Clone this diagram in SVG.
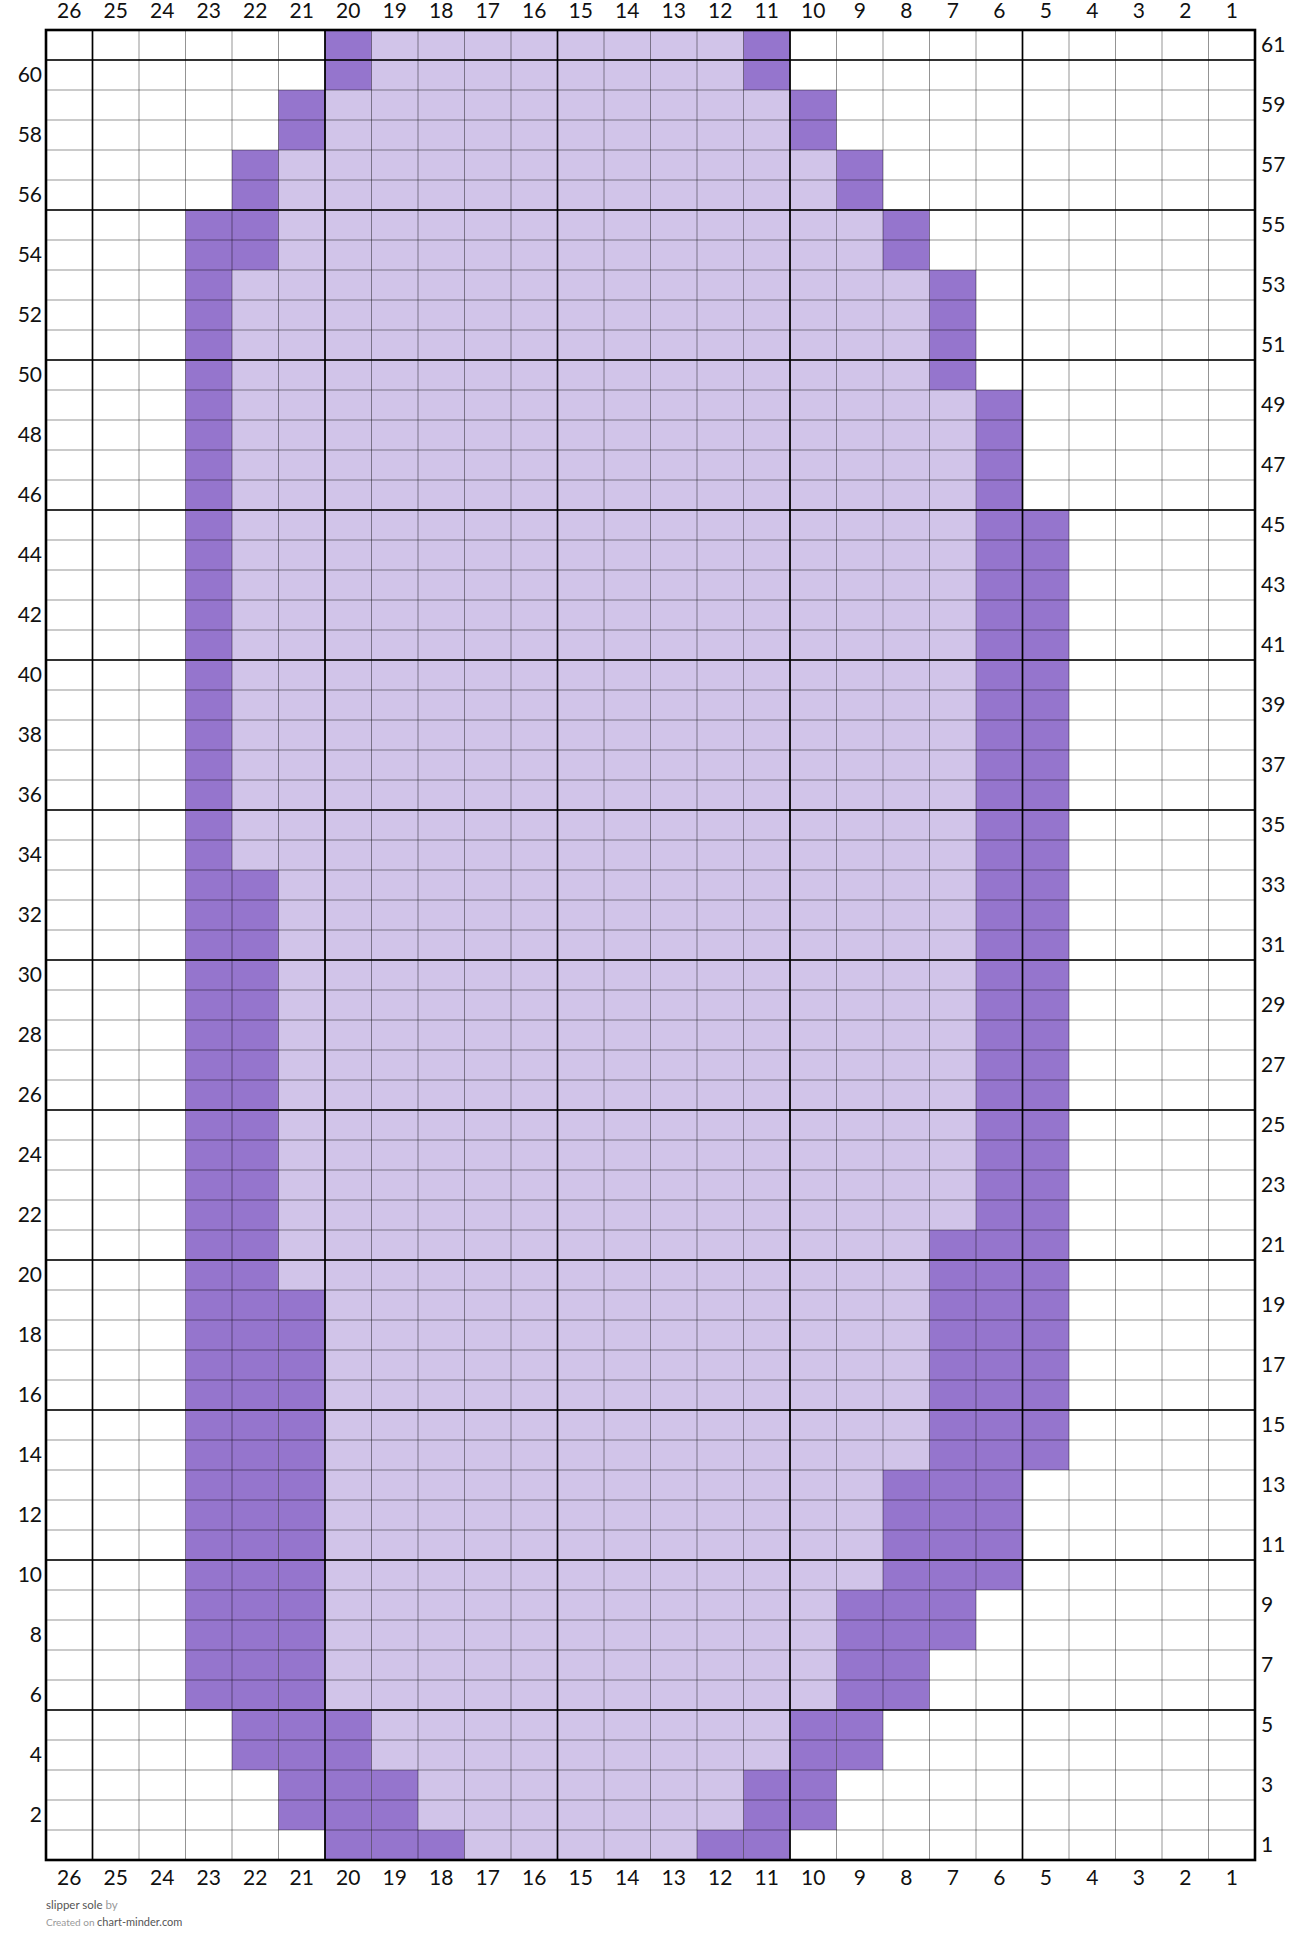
<svg xmlns="http://www.w3.org/2000/svg" width="1302" height="1953" viewBox="0 0 1302 1953">
<style>
.lt{fill:#D1C4E9}
.dk{fill:#9575CD}
.thin{fill:none;stroke:#000;stroke-opacity:0.42;stroke-width:1}
.thick{fill:none;stroke:#000;stroke-width:1.7}
.border{fill:none;stroke:#000;stroke-width:2.6}
.lab{font-family:Lato,"Liberation Sans",sans-serif;font-size:21px;fill:#111}
.c{text-anchor:middle}
.l{text-anchor:end}
.r{text-anchor:start}
.ft{font-family:Lato,"Liberation Sans",sans-serif}
</style>
<rect x="0" y="0" width="1302" height="1953" fill="#fff"/>
<g id="light-cells">
<rect class="lt" x="371.5" y="30" width="372" height="60"/>
<rect class="lt" x="325" y="90" width="465" height="60"/>
<rect class="lt" x="278.5" y="150" width="558" height="60"/>
<rect class="lt" x="278.5" y="210" width="604.5" height="60"/>
<rect class="lt" x="232" y="270" width="697.5" height="120"/>
<rect class="lt" x="232" y="390" width="744" height="480"/>
<rect class="lt" x="278.5" y="870" width="697.5" height="360"/>
<rect class="lt" x="278.5" y="1230" width="651" height="60"/>
<rect class="lt" x="325" y="1290" width="604.5" height="180"/>
<rect class="lt" x="325" y="1470" width="558" height="120"/>
<rect class="lt" x="325" y="1590" width="511.5" height="120"/>
<rect class="lt" x="371.5" y="1710" width="418.5" height="60"/>
<rect class="lt" x="418" y="1770" width="325.5" height="60"/>
<rect class="lt" x="464.5" y="1830" width="232.5" height="30"/>
</g>
<g id="dark-cells">
<rect class="dk" x="185.5" y="210" width="46.5" height="1500"/>
<rect class="dk" x="232" y="150" width="46.5" height="120"/>
<rect class="dk" x="232" y="870" width="46.5" height="900"/>
<rect class="dk" x="278.5" y="90" width="46.5" height="60"/>
<rect class="dk" x="278.5" y="1290" width="46.5" height="540"/>
<rect class="dk" x="325" y="30" width="46.5" height="60"/>
<rect class="dk" x="325" y="1710" width="46.5" height="150"/>
<rect class="dk" x="371.5" y="1770" width="46.5" height="90"/>
<rect class="dk" x="418" y="1830" width="46.5" height="30"/>
<rect class="dk" x="697" y="1830" width="46.5" height="30"/>
<rect class="dk" x="743.5" y="30" width="46.5" height="60"/>
<rect class="dk" x="743.5" y="1770" width="46.5" height="90"/>
<rect class="dk" x="790" y="90" width="46.5" height="60"/>
<rect class="dk" x="790" y="1710" width="46.5" height="120"/>
<rect class="dk" x="836.5" y="150" width="46.5" height="60"/>
<rect class="dk" x="836.5" y="1590" width="46.5" height="180"/>
<rect class="dk" x="883" y="210" width="46.5" height="60"/>
<rect class="dk" x="883" y="1470" width="46.5" height="240"/>
<rect class="dk" x="929.5" y="270" width="46.5" height="120"/>
<rect class="dk" x="929.5" y="1230" width="46.5" height="420"/>
<rect class="dk" x="976" y="390" width="46.5" height="1200"/>
<rect class="dk" x="1022.5" y="510" width="46.5" height="960"/>
</g>
<g id="grid">
<path class="thin" d="M92.5 30V1860M139 30V1860M185.5 30V1860M232 30V1860M278.5 30V1860M325 30V1860M371.5 30V1860M418 30V1860M464.5 30V1860M511 30V1860M557.5 30V1860M604 30V1860M650.5 30V1860M697 30V1860M743.5 30V1860M790 30V1860M836.5 30V1860M883 30V1860M929.5 30V1860M976 30V1860M1022.5 30V1860M1069 30V1860M1115.5 30V1860M1162 30V1860M1208.5 30V1860"/>
<path class="thin" d="M46 60H1255M46 90H1255M46 120H1255M46 150H1255M46 180H1255M46 210H1255M46 240H1255M46 270H1255M46 300H1255M46 330H1255M46 360H1255M46 390H1255M46 420H1255M46 450H1255M46 480H1255M46 510H1255M46 540H1255M46 570H1255M46 600H1255M46 630H1255M46 660H1255M46 690H1255M46 720H1255M46 750H1255M46 780H1255M46 810H1255M46 840H1255M46 870H1255M46 900H1255M46 930H1255M46 960H1255M46 990H1255M46 1020H1255M46 1050H1255M46 1080H1255M46 1110H1255M46 1140H1255M46 1170H1255M46 1200H1255M46 1230H1255M46 1260H1255M46 1290H1255M46 1320H1255M46 1350H1255M46 1380H1255M46 1410H1255M46 1440H1255M46 1470H1255M46 1500H1255M46 1530H1255M46 1560H1255M46 1590H1255M46 1620H1255M46 1650H1255M46 1680H1255M46 1710H1255M46 1740H1255M46 1770H1255M46 1800H1255M46 1830H1255"/>
<path class="thick" d="M92.5 30V1860M325 30V1860M557.5 30V1860M790 30V1860M1022.5 30V1860M46 60H1255M46 210H1255M46 360H1255M46 510H1255M46 660H1255M46 810H1255M46 960H1255M46 1110H1255M46 1260H1255M46 1410H1255M46 1560H1255M46 1710H1255"/>
<rect class="border" x="46" y="30" width="1209" height="1830"/>
</g>
<g id="col-labels-top" class="lab c">
<text x="69.25" y="18">26</text><text x="115.75" y="18">25</text><text x="162.25" y="18">24</text><text x="208.75" y="18">23</text><text x="255.25" y="18">22</text><text x="301.75" y="18">21</text><text x="348.25" y="18">20</text><text x="394.75" y="18">19</text><text x="441.25" y="18">18</text><text x="487.75" y="18">17</text><text x="534.25" y="18">16</text><text x="580.75" y="18">15</text><text x="627.25" y="18">14</text><text x="673.75" y="18">13</text><text x="720.25" y="18">12</text><text x="766.75" y="18">11</text><text x="813.25" y="18">10</text><text x="859.75" y="18">9</text><text x="906.25" y="18">8</text><text x="952.75" y="18">7</text><text x="999.25" y="18">6</text><text x="1045.75" y="18">5</text><text x="1092.25" y="18">4</text><text x="1138.75" y="18">3</text><text x="1185.25" y="18">2</text><text x="1231.75" y="18">1</text>
</g>
<g id="col-labels-bottom" class="lab c">
<text x="69.25" y="1885">26</text><text x="115.75" y="1885">25</text><text x="162.25" y="1885">24</text><text x="208.75" y="1885">23</text><text x="255.25" y="1885">22</text><text x="301.75" y="1885">21</text><text x="348.25" y="1885">20</text><text x="394.75" y="1885">19</text><text x="441.25" y="1885">18</text><text x="487.75" y="1885">17</text><text x="534.25" y="1885">16</text><text x="580.75" y="1885">15</text><text x="627.25" y="1885">14</text><text x="673.75" y="1885">13</text><text x="720.25" y="1885">12</text><text x="766.75" y="1885">11</text><text x="813.25" y="1885">10</text><text x="859.75" y="1885">9</text><text x="906.25" y="1885">8</text><text x="952.75" y="1885">7</text><text x="999.25" y="1885">6</text><text x="1045.75" y="1885">5</text><text x="1092.25" y="1885">4</text><text x="1138.75" y="1885">3</text><text x="1185.25" y="1885">2</text><text x="1231.75" y="1885">1</text>
</g>
<g id="row-labels-left" class="lab l">
<text x="42" y="81.5">60</text><text x="42" y="141.5">58</text><text x="42" y="201.5">56</text><text x="42" y="261.5">54</text><text x="42" y="321.5">52</text><text x="42" y="381.5">50</text><text x="42" y="441.5">48</text><text x="42" y="501.5">46</text><text x="42" y="561.5">44</text><text x="42" y="621.5">42</text><text x="42" y="681.5">40</text><text x="42" y="741.5">38</text><text x="42" y="801.5">36</text><text x="42" y="861.5">34</text><text x="42" y="921.5">32</text><text x="42" y="981.5">30</text><text x="42" y="1041.5">28</text><text x="42" y="1101.5">26</text><text x="42" y="1161.5">24</text><text x="42" y="1221.5">22</text><text x="42" y="1281.5">20</text><text x="42" y="1341.5">18</text><text x="42" y="1401.5">16</text><text x="42" y="1461.5">14</text><text x="42" y="1521.5">12</text><text x="42" y="1581.5">10</text><text x="42" y="1641.5">8</text><text x="42" y="1701.5">6</text><text x="42" y="1761.5">4</text><text x="42" y="1821.5">2</text>
</g>
<g id="row-labels-right" class="lab r">
<text x="1261" y="51.5">61</text><text x="1261" y="111.5">59</text><text x="1261" y="171.5">57</text><text x="1261" y="231.5">55</text><text x="1261" y="291.5">53</text><text x="1261" y="351.5">51</text><text x="1261" y="411.5">49</text><text x="1261" y="471.5">47</text><text x="1261" y="531.5">45</text><text x="1261" y="591.5">43</text><text x="1261" y="651.5">41</text><text x="1261" y="711.5">39</text><text x="1261" y="771.5">37</text><text x="1261" y="831.5">35</text><text x="1261" y="891.5">33</text><text x="1261" y="951.5">31</text><text x="1261" y="1011.5">29</text><text x="1261" y="1071.5">27</text><text x="1261" y="1131.5">25</text><text x="1261" y="1191.5">23</text><text x="1261" y="1251.5">21</text><text x="1261" y="1311.5">19</text><text x="1261" y="1371.5">17</text><text x="1261" y="1431.5">15</text><text x="1261" y="1491.5">13</text><text x="1261" y="1551.5">11</text><text x="1261" y="1611.5">9</text><text x="1261" y="1671.5">7</text><text x="1261" y="1731.5">5</text><text x="1261" y="1791.5">3</text><text x="1261" y="1851.5">1</text>
</g>
<g id="footer" class="ft">
<text x="46" y="1909" font-size="11.5"><tspan fill="#555">slipper sole</tspan><tspan fill="#999"> by</tspan></text>
<text x="46" y="1926" font-size="10"><tspan fill="#999">Created on </tspan><tspan fill="#555" font-size="11">chart-minder.com</tspan></text>
</g>
</svg>
